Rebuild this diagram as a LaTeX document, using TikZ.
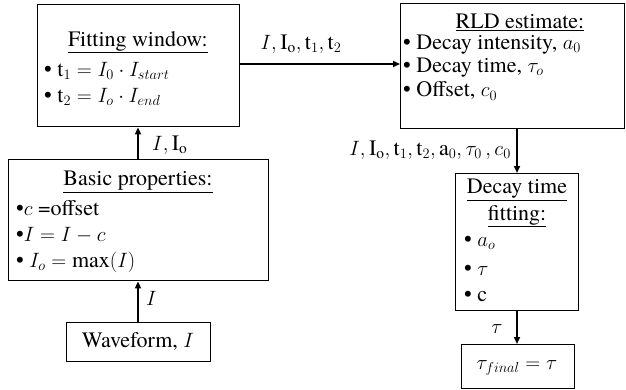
\documentclass[tikz,border=0pt]{standalone}
\usepackage{fontspec}
\setmainfont{texgyretermes}[Extension=.otf, UprightFont=*-regular, ItalicFont=*-italic, BoldFont=*-bold, BoldItalicFont=*-bolditalic]
\usetikzlibrary{arrows.meta}
\tikzset{
  box/.style={draw, line width=1.4pt, inner sep=0pt, anchor=north west},
  txt/.style={inner sep=0pt, font=\rmfamily\fontsize{22}{24}\selectfont},
  ttl/.style={txt, anchor=center},
  itm/.style={txt, anchor=west},
  lbl/.style={txt},
  conn/.style={line width=2.2pt, -{Triangle[length=7pt,width=6pt]}},
}
\newcommand{\ul}[1]{\underline{#1}}
\begin{document}
\begin{tikzpicture}[x=1pt,y=-1pt]
\useasboundingbox (0,0) rectangle (626,389);
% boxes
\node[box, minimum width=202pt, minimum height=122pt] (fit) at (37,4) {};
\node[box, minimum width=260pt, minimum height=121pt] (basic) at (8,159) {};
\node[box, minimum width=144pt, minimum height=39pt] (wave) at (66,322) {};
\node[box, minimum width=224pt, minimum height=125pt] (rld) at (400,3) {};
\node[box, minimum width=123pt, minimum height=137pt] (decay) at (455,173) {};
\node[box, minimum width=113pt, minimum height=44pt] (final) at (461,344) {};
% fitting window text
\node[ttl] (fitT) at (138,42) {\ul{Fitting window:}};
\node[itm] (fit1) at (44,71) {\textbullet\ $\mathrm{t}_1 = I_0 \cdot I_{start}$};
\node[itm] (fit2) at (44,97) {\textbullet\ $\mathrm{t}_2 = I_o \cdot I_{end}$};
% basic properties
\node[ttl] (basT) at (138,182) {\ul{Basic properties:}};
\node[itm] (bas1) at (16,208) {\textbullet$c$ =offset};
\node[itm] (bas2) at (16,235) {\textbullet$I = I - c$};
\node[itm] (bas3) at (16,262) {\textbullet\ $I_o = \mathrm{max}(I)$};
% waveform
\node[ttl] (waveT) at (138,342) {Waveform, $I$};
% RLD
\node[ttl] (rldT) at (520,22) {\ul{RLD estimate:}};
\node[itm] (rld1) at (403,45) {\textbullet\ Decay intensity, $a_0$};
\node[itm] (rld2) at (403,68) {\textbullet\ Decay time, $\tau_o$};
\node[itm] (rld3) at (403,91) {\textbullet\ Offset, $c_0$};
% decay
\node[ttl] (decT1) at (517,190) {\ul{Decay time}};
\node[ttl] (decT2) at (517,216) {\ul{fitting:}};
\node[itm] (dec1) at (464,243) {\textbullet\ $a_o$};
\node[itm] (dec2) at (464,270) {\textbullet\ $\tau$};
\node[itm] (dec3) at (464,296) {\textbullet\ c};
% final
\node[ttl] (finT) at (517,368) {$\tau_{final} = \tau$};
% connectors
\draw[conn] (wave.north -| waveT) -- (basic.south -| waveT);
\draw[conn] (basic.north -| waveT) -- (fit.south -| waveT);
\draw[conn] (fit.east |- 0,64) -- (rld.west |- 0,64);
\draw[conn] (rld.south -| decT1) -- (decay.north -| decT1);
\draw[conn] (decay.south -| decT1) -- (final.north -| decT1);
% labels
\node[lbl, anchor=west] (l1) at (146,298) {$I$};
\node[lbl, anchor=west] (l2) at (152,145) {$I, \mathrm{I_o}$};
\node[lbl] (l3) at (301,44) {$I, \mathrm{I_o}, \mathrm{t}_1, \mathrm{t}_2$};
\node[lbl, anchor=east] (l4) at (511,150) {$I, \mathrm{I_o}, \mathrm{t}_1, \mathrm{t}_2, \mathrm{a}_0, \tau_0\,, c_0$};
\node[lbl] (l5) at (497,329) {$\tau$};
\end{tikzpicture}
\end{document}
